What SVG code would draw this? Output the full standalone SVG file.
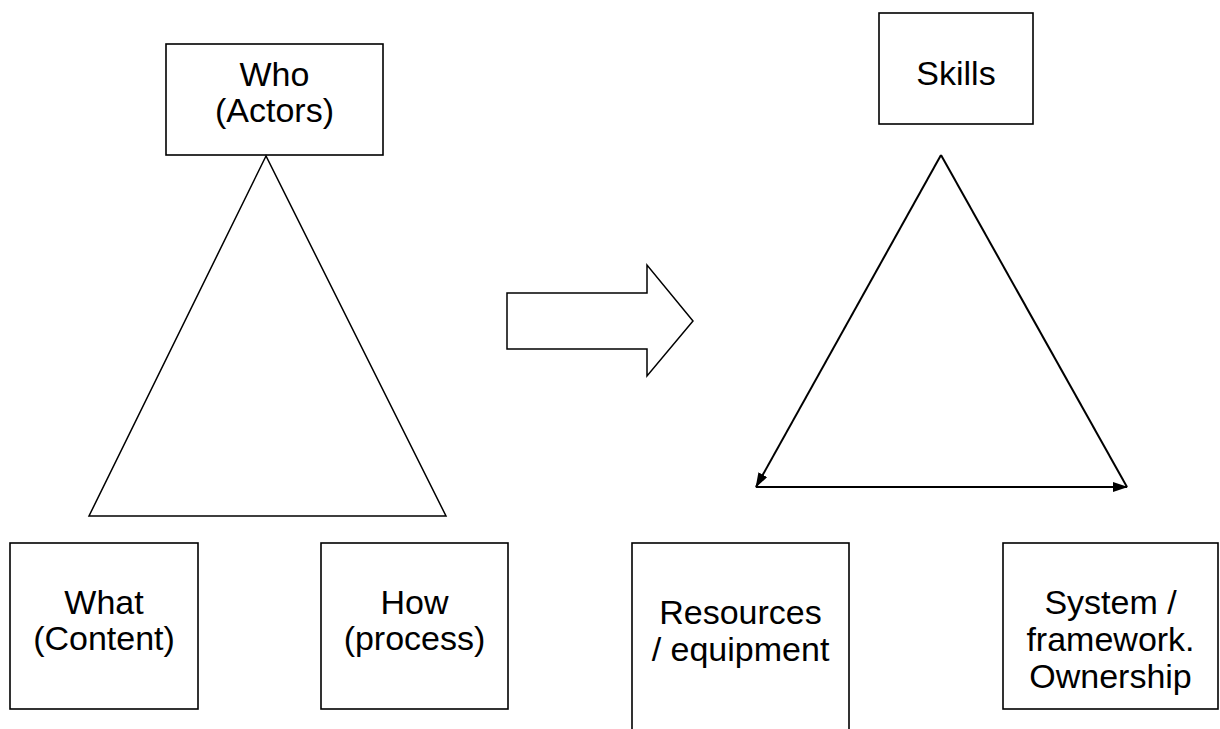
<svg xmlns="http://www.w3.org/2000/svg" width="1220" height="729" viewBox="0 0 1220 729">
<style>
.box{fill:#fff;stroke:#000;stroke-width:1.6}
.shape{fill:none;stroke:#000;stroke-width:1.5}
.edge{fill:none;stroke:#000;stroke-width:2}
text{font-family:"Liberation Sans",Arial,sans-serif;font-size:34px;fill:#000;text-anchor:middle}
</style>
<defs>
<marker id="ah" markerWidth="15" markerHeight="10" refX="14" refY="5" orient="auto" markerUnits="userSpaceOnUse">
<path d="M0,0 L15,5 L0,10 Z" fill="#000"/>
</marker>
</defs>
<g id="who"><rect class="box" x="166" y="44" width="217" height="111"/><text x="274.5" y="86">Who</text><text x="274.5" y="122">(Actors)</text></g>
<g id="what"><rect class="box" x="10" y="543" width="188" height="166"/><text x="104" y="614">What</text><text x="104" y="650">(Content)</text></g>
<g id="how"><rect class="box" x="321" y="543" width="187" height="166"/><text x="414.5" y="614">How</text><text x="414.5" y="650">(process)</text></g>
<g id="skills"><rect class="box" x="879" y="13" width="154" height="111"/><text x="956" y="85">Skills</text></g>
<g id="resources"><rect class="box" x="632" y="543" width="217" height="200"/><text x="740.5" y="624">Resources</text><text x="740.5" y="661">/ equipment</text></g>
<g id="system"><rect class="box" x="1003" y="543" width="215" height="166"/><text x="1110.5" y="614">System /</text><text x="1110.5" y="651">framework.</text><text x="1110.5" y="688">Ownership</text></g>
<g id="triangle-left"><polygon class="shape" points="266,156 89,516 446,516"/></g>
<g id="big-arrow"><polygon class="shape" points="507,293 647,293 647,265 693,321 647,376 647,349 507,349"/></g>
<g id="connectors">
<line class="edge" x1="941" y1="155" x2="756" y2="487" marker-end="url(#ah)"/>
<line class="edge" x1="756" y1="487" x2="1127" y2="487" marker-end="url(#ah)"/>
<line class="edge" x1="1127" y1="487" x2="941" y2="155"/>
</g>
</svg>
